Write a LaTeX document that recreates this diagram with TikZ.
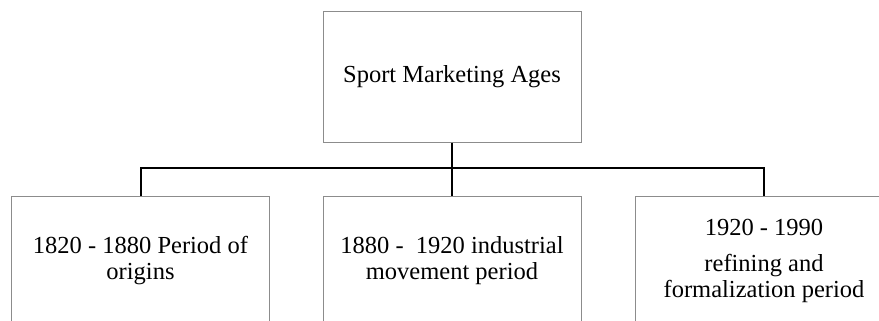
\documentclass[tikz,border=0pt]{standalone}
\usepackage{fontspec}
\setmainfont{Liberation Serif}
\usetikzlibrary{positioning}

\begin{document}
\begin{tikzpicture}[x=1pt,y=-1pt,
	agebox/.style={draw=black!45,line width=1pt,minimum width=258pt,minimum height=130pt,
		align=center,inner sep=0pt,font=\fontsize{24.5}{26}\selectfont},
	link/.style={draw=black,line width=2pt}] % 図の開始
\useasboundingbox (0,0) rectangle (879,321);
\clip (0,0) rectangle (879,321);
% 上の箱
\node[agebox] (ages) at (452,77) {Sport Marketing Ages};
% 下の箱
\node[agebox] (origins) at (140.5,261) {1820 - 1880 Period of\\origins};
\node[agebox] (industrial) at (452,261) {1880 -\ \ 1920 industrial\\movement period};
\node[agebox] (refining) at (764,261) {1920 - 1990\\[10pt]refining and\\formalization period};
% 線
\coordinate (hub) at (ages.south |- 0,168);
\path[link] (ages.south) -- (hub);
\path[link] (origins.north) |- (hub) -| (refining.north);
\path[link] (hub) -- (industrial.north);
\end{tikzpicture}
\end{document}
